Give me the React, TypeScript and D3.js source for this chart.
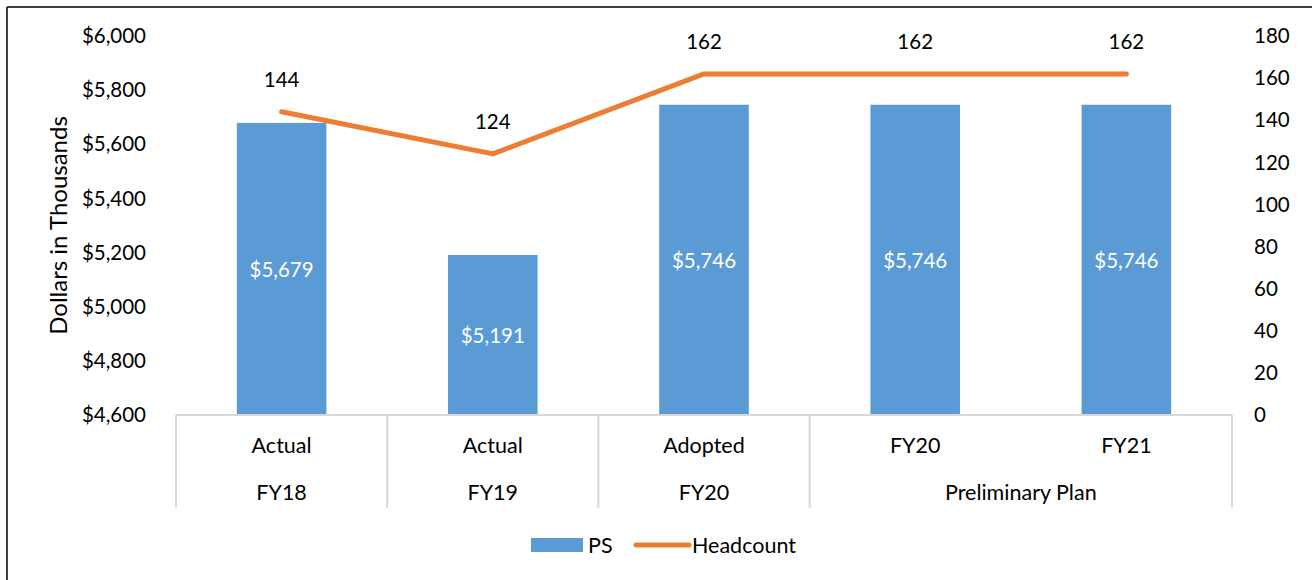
import React from "react";
import * as d3 from "d3";

const categories = ["Actual", "Actual", "Adopted", "FY20", "FY21"];
const groups = [
  { label: "FY18", span: 1 },
  { label: "FY19", span: 1 },
  { label: "FY20", span: 1 },
  { label: "Preliminary Plan", span: 2 },
];
const psValues = [5679, 5191, 5746, 5746, 5746];
const headcountValues = [144, 124, 162, 162, 162];
const leftTicks = [4600, 4800, 5000, 5200, 5400, 5600, 5800, 6000];
const rightTicks = [0, 20, 40, 60, 80, 100, 120, 140, 160, 180];

const W = 1312;
const H = 580;
const FONT = "Lato, 'Open Sans', sans-serif";
const BLUE = "#5B9BD5";
const ORANGE = "#ED7D31";
const GRID = "#D9D9D9";

export default function App() {
  const left = 176;
  const right = 1232;
  const top = 36;
  const bottom = 415;
  const x = d3
    .scaleBand<number>()
    .domain(d3.range(categories.length))
    .range([left, right])
    .paddingInner(0.576)
    .paddingOuter(0.288);
  const step = x.step();
  const center = (i: number) => (x(i) as number) + x.bandwidth() / 2;
  const yL = d3.scaleLinear().domain([4600, 6000]).range([bottom, top]);
  const yR = d3.scaleLinear().domain([0, 180]).range([bottom, top]);
  const line = d3
    .line<number>()
    .x((_, i) => center(i))
    .y((d) => yR(d));
  const fmt = (v: number) => "$" + d3.format(",")(v);
  const bw = x.bandwidth();

  const bounds: number[] = [0];
  groups.forEach((g) => bounds.push(bounds[bounds.length - 1] + g.span));
  const bx = (b: number) => left + b * ((right - left) / categories.length);

  return (
    <svg
      width={W}
      height={H}
      style={{ position: "absolute", left: 0, top: 0, background: "#fff" }}
      fontFamily={FONT}
    >
      <line x1={7} y1={7} x2={W} y2={7} stroke="#000" strokeWidth={1.5} />
      <line x1={7} y1={7} x2={7} y2={H} stroke="#000" strokeWidth={1.5} />

      {psValues.map((v, i) => (
        <rect
          key={"b" + i}
          x={x(i)}
          y={yL(v)}
          width={bw}
          height={bottom - yL(v)}
          fill={BLUE}
        />
      ))}
      {psValues.map((v, i) => (
        <text
          key={"bl" + i}
          x={center(i)}
          y={(yL(v) + bottom) / 2 + 1}
          dy="0.35em"
          textAnchor="middle"
          fill="#fff"
          fontSize={20.5}
        >
          {fmt(v)}
        </text>
      ))}

      <line x1={left} y1={bottom} x2={right} y2={bottom} stroke={GRID} strokeWidth={2} />
      {bounds.map((b, i) => (
        <line
          key={"sep" + i}
          x1={bx(b)}
          y1={bottom}
          x2={bx(b)}
          y2={508}
          stroke={GRID}
          strokeWidth={2}
        />
      ))}

      {categories.map((c, i) => (
        <text key={"c" + i} x={center(i)} y={453} textAnchor="middle" fontSize={21.5} fill="#000">
          {c}
        </text>
      ))}
      {groups.map((g, i) => (
        <text
          key={"g" + i}
          x={(bx(bounds[i]) + bx(bounds[i + 1])) / 2}
          y={500}
          textAnchor="middle"
          fontSize={21.5}
          fill="#000"
        >
          {g.label}
        </text>
      ))}

      {leftTicks.map((t) => (
        <text key={"l" + t} x={146} y={yL(t)} dy="0.35em" textAnchor="end" fontSize={20.5} fill="#000">
          {fmt(t)}
        </text>
      ))}
      {rightTicks.map((t) => (
        <text key={"r" + t} x={1254} y={yR(t)} dy="0.35em" textAnchor="start" fontSize={20.5} fill="#000">
          {t}
        </text>
      ))}
      <text
        transform={`translate(59,${(top + bottom) / 2}) rotate(-90)`}
        textAnchor="middle"
        dy="0.35em"
        fontSize={24}
        fill="#000"
      >
        Dollars in Thousands
      </text>

      <path
        d={line(headcountValues) || ""}
        fill="none"
        stroke={ORANGE}
        strokeWidth={5}
        strokeLinecap="round"
        strokeLinejoin="round"
      />
      {headcountValues.map((v, i) => (
        <text key={"hl" + i} x={center(i)} y={yR(v) - 25} textAnchor="middle" fontSize={20.5} fill="#000">
          {v}
        </text>
      ))}

      <rect x={531} y={538} width={52} height={14} fill={BLUE} />
      <text x={588} y={545} dy="0.35em" fontSize={21.5} fill="#000">
        PS
      </text>
      <line x1={636} y1={545} x2={689} y2={545} stroke={ORANGE} strokeWidth={5} strokeLinecap="round" />
      <text x={692} y={545} dy="0.35em" fontSize={21.5} fill="#000">
        Headcount
      </text>
    </svg>
  );
}
